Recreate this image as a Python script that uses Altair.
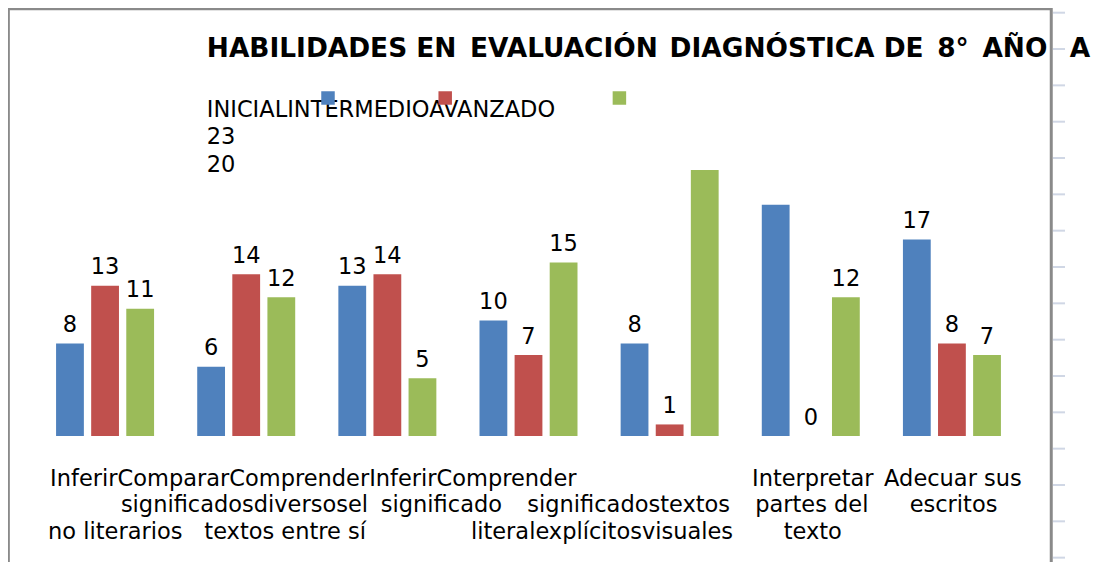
import altair as alt
import pandas as pd

# ---- data -------------------------------------------------------------
categories = [
    "Inferir significados no literarios",
    "Comparar diversos textos entre sí",
    "Comprender el significado literal",
    "Inferir significados explícitos",
    "Comprender textos visuales",
    "Interpretar partes del texto",
    "Adecuar sus escritos",
]
series = ["INICIAL", "INTERMEDIO", "AVANZADO"]
inicial = [8, 6, 13, 10, 8, 20, 17]
intermedio = [13, 14, 14, 7, 1, 0, 8]
avanzado = [11, 12, 5, 15, 23, 12, 7]
colors = ["#4F81BD", "#C0504D", "#9BBB59"]

title_text = "HABILIDADES EN \u2006EVALUACIÓN \u200aDIAGNÓSTICA DE \u2006" "8° \u2006AÑO \u2002A"

# category label text as it is drawn (overlapping wrapped lines)
label_line1 = ["InferirCompararComprenderInferirComprender", "Interpretar", "Adecuar sus"]
label_line2 = ["significadosdiversosel", "significado", "significadostextos", "partes del", "escritos"]
label_line3 = ["no literarios", "textos entre sí", "literalexplícitosvisuales", "texto"]

FONT = "DejaVu Sans"

rows = []
for ci, c in enumerate(categories):
    for si, (s, vals) in enumerate(zip(series, [inicial, intermedio, avanzado])):
        rows.append({"cat": c, "series": s, "value": vals[ci]})
df = pd.DataFrame(rows)

# labels that the original drew in the legend area instead of above the bar
overflow = [str(r["value"]) for r in rows if r["value"] >= 20]
legend_text = "\n".join(["".join(series)] + overflow)

one = pd.DataFrame({"a": [0]})

x_enc = alt.X(
    "cat:N", sort=categories,
    scale=alt.Scale(domain=categories, paddingInner=0.3057, paddingOuter=0.15285),
    axis=alt.Axis(labels=False, ticks=False, title=None, grid=False,
                  domainColor="#8c8c8c", domainWidth=2),
)
xoff_enc = alt.XOffset("series:N", sort=series,
                       scale=alt.Scale(domain=series, paddingInner=0.208, paddingOuter=0))
y_enc = alt.Y("value:Q", scale=alt.Scale(domain=[0, 25], nice=False, zero=True), axis=None)

layers = []

# chart frame
layers.append(
    alt.Chart(one).mark_rect(fill="white", stroke="#8a8a8a", strokeWidth=3).encode(
        x=alt.value(-26.15), x2=alt.value(1016.75), y=alt.value(-138.35), y2=alt.value(500)
    )
)

# spreadsheet gridline stubs outside the frame (right side)
for k in range(16):
    yy = 12.7 + 36.33 * k - 147
    layers.append(
        alt.Chart(one).mark_rule(color="#d0d7e5", strokeWidth=2).encode(
            x=alt.value(1018.5), x2=alt.value(1030.5), y=alt.value(yy)
        )
    )

base = alt.Chart(df)
bars = base.mark_bar().encode(
    x=x_enc, xOffset=xoff_enc, y=y_enc,
    color=alt.Color("series:N", sort=series,
                    scale=alt.Scale(domain=series, range=colors), legend=None),
)
layers.append(bars)

labels = base.transform_filter("datum.value < 20").mark_text(
    font=FONT, fontSize=22.5, baseline="alphabetic", dy=-11.5, color="black"
).encode(x=x_enc, xOffset=xoff_enc, y=y_enc, text="value:Q")
layers.append(labels)

# title
layers.append(
    alt.Chart(one).mark_text(
        font=FONT, fontSize=26.4, fontWeight="bold", align="left", baseline="alphabetic",
        color="black"
    ).encode(x=alt.value(172.3), y=alt.value(-89.7), text=alt.value(title_text))
)

# legend-like text block
layers.append(
    alt.Chart(one).mark_text(
        font=FONT, fontSize=22.5, align="left", baseline="alphabetic", color="black",
        lineBreak="\n", lineHeight=27.2
    ).encode(x=alt.value(172.3), y=alt.value(-29.7), text=alt.value(legend_text))
)

# legend squares
for sx, col in zip([293.5, 410.7, 584.9], colors):
    layers.append(
        alt.Chart(one).mark_square(size=182, color=col, opacity=1).encode(
            x=alt.value(sx), y=alt.value(-49)
        )
    )

# category label pieces: (text, category index, align, dx, baseline y)
pieces = [
    (label_line1[0], 0, "left", -55.0, 338.5),
    (label_line1[1], 5, "center", 2.0, 338.5),
    (label_line1[2], 6, "center", 1.0, 338.5),
    (label_line2[0], 1, "right", 121.8, 365.0),
    (label_line2[1], 3, "right", -26.5, 365.0),
    (label_line2[2], 4, "right", 60.4, 365.0),
    (label_line2[3], 5, "center", 1.0, 365.0),
    (label_line2[4], 6, "center", 1.6, 365.0),
    (label_line3[0], 0, "left", -57.0, 391.5),
    (label_line3[1], 1, "right", 119.8, 391.5),
    (label_line3[2], 4, "right", 63.4, 391.5),
    (label_line3[3], 5, "center", 2.0, 391.5),
]
for txt, ci, al, dx, yy in pieces:
    layers.append(
        alt.Chart(pd.DataFrame({"cat": [categories[ci]], "t": [txt]})).mark_text(
            font=FONT, fontSize=22.5, align=al, baseline="alphabetic", dx=dx, color="black"
        ).encode(x=x_enc, y=alt.value(yy), text="t:N")
    )

chart = alt.layer(*layers).properties(
    width=988, height=289,
    autosize=alt.AutoSizeParams(type="none"),
    padding={"left": 26.5, "top": 139, "right": 76, "bottom": 126},
).configure_view(stroke=None).configure(font=FONT)

chart.save("out.html", embed_options={"renderer": "svg", "actions": False})
